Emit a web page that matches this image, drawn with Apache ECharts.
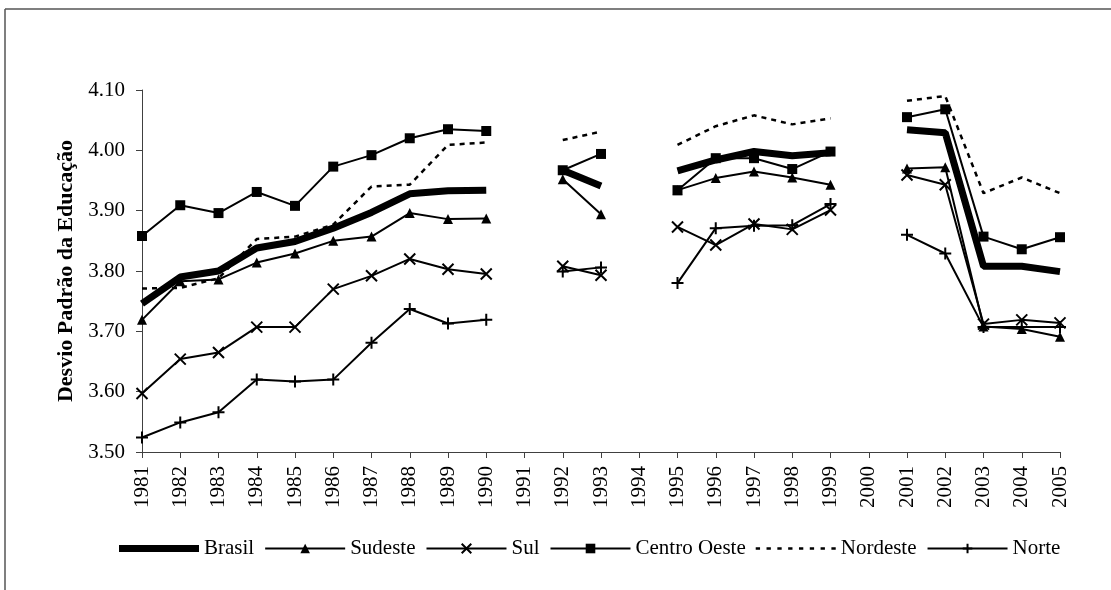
<!DOCTYPE html>
<html>
<head>
<meta charset="utf-8">
<script src="https://cdn.jsdelivr.net/npm/echarts@6/dist/echarts.min.js"></script>
<style>
  html, body { margin: 0; padding: 0; background: #fff; }
  #chart { width: 1111px; height: 590px; }
</style>
</head>
<body>
<div id="chart"></div>
<script>
// Years on the category axis (gaps in 1991, 1994 and 2000: no survey)
const years = ['1981','1982','1983','1984','1985','1986','1987','1988','1989','1990',
  '1991','1992','1993','1994','1995','1996','1997','1998','1999','2000',
  '2001','2002','2003','2004','2005'];

const brasil = [3.746,3.790,3.800,3.838,3.849,3.871,3.897,3.928,3.933,3.934,
  null,3.967,3.941,null,3.966,3.984,3.998,3.991,3.996,null,
  4.034,4.029,3.808,3.808,3.799];

const sudeste = [3.719,3.783,3.786,3.814,3.829,3.850,3.857,3.896,3.886,3.887,
  null,3.952,3.894,null,3.934,3.954,3.965,3.955,3.943,null,
  3.970,3.972,3.708,3.704,3.691];

const sul = [3.597,3.654,3.665,3.707,3.707,3.770,3.792,3.820,3.803,3.795,
  null,3.808,3.793,null,3.873,3.843,3.878,3.869,3.901,null,
  3.959,3.943,3.712,3.719,3.714];

const centroOeste = [3.858,3.909,3.896,3.931,3.908,3.973,3.992,4.020,4.035,4.032,
  null,3.967,3.994,null,3.934,3.987,3.987,3.969,3.998,null,
  4.055,4.068,3.857,3.836,3.856];

const nordeste = [3.771,3.772,3.788,3.853,3.857,3.877,3.940,3.943,4.009,4.013,
  null,4.017,4.031,null,4.009,4.040,4.058,4.043,4.053,null,
  4.082,4.090,3.929,3.955,3.929];

const norte = [3.524,3.549,3.566,3.620,3.617,3.620,3.681,3.737,3.713,3.719,
  null,3.799,3.806,null,3.780,3.871,3.875,3.876,3.911,null,
  3.860,3.829,3.707,3.707,3.707];

const yTicks = { min: 3.5, max: 4.1, step: 0.1 };

const ink = '#000';
const axisInk = '#404040';
const serif = '"Liberation Serif", "Times New Roman", serif';

const crossPath = 'path://M0,0L10,10M0,10L10,0';
const plusPath = 'path://M5,0L5,10M0,5L10,5';

// Legend keys for the two lines without markers
const thickBarIcon = 'path://M0,0h80v7h-80z';
const dashIcon = 'path://' + [0, 10, 20, 30, 40, 50, 60, 70]
  .map(x => `M${x + 1},0h4v2.5h-4z`).join('');

function thinSeries(name, data, symbol, size, stroked) {
  return {
    name, type: 'line', data,
    symbol, symbolSize: size,
    lineStyle: { color: ink, width: 2 },
    itemStyle: stroked
      ? { color: 'rgba(0,0,0,0)', borderColor: ink, borderWidth: 2 }
      : { color: ink, borderWidth: 0 },
    z: 3
  };
}

const chart = echarts.init(document.getElementById('chart'), null, { renderer: 'canvas' });

chart.setOption({
  animation: false,
  backgroundColor: '#fff',
  textStyle: { fontFamily: serif, color: ink },
  graphic: [
    { type: 'line', shape: { x1: 5, y1: 9, x2: 1111, y2: 9 }, style: { stroke: '#555', lineWidth: 1.5 } },
    { type: 'line', shape: { x1: 5, y1: 9, x2: 5, y2: 590 }, style: { stroke: '#555', lineWidth: 1.5 } }
  ],
  grid: { left: 142, right: 51, top: 90, bottom: 138, containLabel: false },
  legend: {
    bottom: 26,
    left: 114,
    itemWidth: 80,
    itemHeight: 12,
    itemGap: 10,
    textStyle: { fontFamily: serif, fontSize: 21, color: ink },
    data: [
      { name: 'Brasil', icon: thickBarIcon, itemStyle: { color: ink } },
      'Sudeste',
      'Sul',
      'Centro Oeste',
      { name: 'Nordeste', icon: dashIcon, itemStyle: { color: ink } },
      'Norte'
    ]
  },
  xAxis: {
    type: 'category',
    data: years,
    boundaryGap: false,
    axisLine: { lineStyle: { color: axisInk, width: 1 } },
    axisTick: { alignWithLabel: true, length: 6, lineStyle: { color: axisInk } },
    axisLabel: { rotate: 90, interval: 0, margin: 14, fontFamily: serif, fontSize: 21, color: ink }
  },
  yAxis: {
    type: 'value',
    min: yTicks.min, max: yTicks.max, interval: yTicks.step,
    name: 'Desvio Padrão da Educação',
    nameLocation: 'middle',
    nameGap: 64,
    nameTextStyle: { fontFamily: serif, fontSize: 22, fontWeight: 'bold', color: ink },
    axisLine: { show: true, lineStyle: { color: axisInk, width: 1 } },
    axisTick: { show: true, length: 6, lineStyle: { color: axisInk } },
    splitLine: { show: false },
    axisLabel: { margin: 17, fontFamily: serif, fontSize: 21, color: ink, formatter: v => v.toFixed(2) }
  },
  series: [
    {
      name: 'Brasil', type: 'line', data: brasil, symbol: 'none',
      lineStyle: { color: ink, width: 7 }, itemStyle: { color: ink }, z: 2
    },
    thinSeries('Sudeste', sudeste, 'triangle', 10, false),
    thinSeries('Sul', sul, crossPath, 11, true),
    thinSeries('Centro Oeste', centroOeste, 'rect', 10, false),
    {
      name: 'Nordeste', type: 'line', data: nordeste, symbol: 'none',
      lineStyle: { color: ink, width: 2.5, type: [5, 5] }, itemStyle: { color: ink }, z: 3
    },
    thinSeries('Norte', norte, plusPath, 12, true)
  ]
});
</script>
</body>
</html>
